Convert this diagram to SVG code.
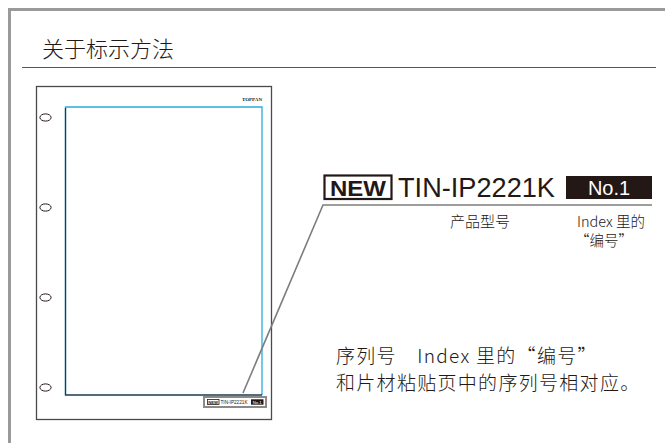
<svg xmlns="http://www.w3.org/2000/svg" width="665" height="443" viewBox="0 0 665 443">
<style>
.cjk{font-family:"Noto Sans CJK SC","Liberation Sans",sans-serif;fill:#231815;font-weight:300}
.lat{font-family:"Liberation Sans","Noto Sans CJK SC",sans-serif;fill:#231815}
.hole{fill:#fff;stroke:#231815;stroke-width:1}
.conn{stroke:#7d7d7d;stroke-width:1.6;fill:none}
</style>
<rect width="665" height="443" fill="#fff"/>
<g id="frame">
<path d="M9.5 443 V9.5 H665" fill="none" stroke="#9a9a9a" stroke-width="3"/>
<text x="42" y="57" class="cjk" font-size="22">关于标示方法</text>
<line x1="22" y1="67.5" x2="656" y2="67.5" stroke="#555" stroke-width="1.2"/>
</g>
<g id="page">
<rect x="36.5" y="86.5" width="235" height="333" fill="#fff" stroke="#4a4a4a" stroke-width="1.3"/>
<path d="M65.5 395 V107 H262 V395" fill="none" stroke="#29abe2" stroke-width="1.3"/>
<path d="M65.5 108 V395 H262" fill="none" stroke="#1d3c4f" stroke-width="1.3"/>
<text x="262" y="101" text-anchor="end" font-family="Liberation Serif,serif" font-weight="bold" font-size="5" fill="#231815">TOPPAN</text>
<ellipse cx="45.5" cy="117.5" rx="5.6" ry="3.6" class="hole"/>
<ellipse cx="45.5" cy="207.5" rx="5.6" ry="3.6" class="hole"/>
<ellipse cx="45.5" cy="297.5" rx="5.6" ry="3.6" class="hole"/>
<ellipse cx="45.5" cy="387.5" rx="5.6" ry="3.6" class="hole"/>
</g>
<g id="mini-label">
<rect x="204" y="397" width="62" height="10" fill="#fff" stroke="#8a8a8a" stroke-width="2"/>
<rect x="207.5" y="399.5" width="11.5" height="5" fill="#fff" stroke="#231815" stroke-width="0.8"/>
<text x="213.2" y="403.8" text-anchor="middle" class="lat" font-size="4.2" font-weight="bold">NEW</text>
<text x="220.5" y="404.3" class="lat" font-size="5.5" textLength="27" lengthAdjust="spacingAndGlyphs">TIN-IP2221K</text>
<rect x="251" y="399.3" width="12.5" height="5.4" fill="#231815"/>
<text x="257.2" y="403.8" text-anchor="middle" font-family="Liberation Sans,sans-serif" font-size="4.2" fill="#fff">No.1</text>
</g>
<g id="connectors">
<polyline class="conn" points="243,393 323,205 652,205"/>
</g>
<g id="label">
<rect x="324.5" y="175.5" width="67" height="23.5" fill="#fff" stroke="#231815" stroke-width="2.2"/>
<text x="358" y="196" text-anchor="middle" class="lat" font-size="22" font-weight="bold" textLength="56" lengthAdjust="spacingAndGlyphs">NEW</text>
<text x="398" y="197" class="lat" font-size="28" textLength="157" lengthAdjust="spacingAndGlyphs">TIN-IP2221K</text>
<rect x="566" y="176" width="86" height="23" fill="#231815"/>
<text x="609" y="195" text-anchor="middle" font-family="Liberation Sans,sans-serif" font-size="20" fill="#fff">No.1</text>
<text x="450" y="227" class="cjk" font-size="15">产品型号</text>
<text x="577" y="227" class="cjk" font-size="14.5">Index 里的</text>
<text x="575" y="246" class="cjk" font-size="14.5">“编号”</text>
</g>
<g id="note">
<text x="336" y="363" class="cjk" font-size="19" letter-spacing="1.3">序列号　Index 里的“编号”</text>
<text x="336" y="390" class="cjk" font-size="19" letter-spacing="1.3">和片材粘贴页中的序列号相对应。</text>
</g>
</svg>
